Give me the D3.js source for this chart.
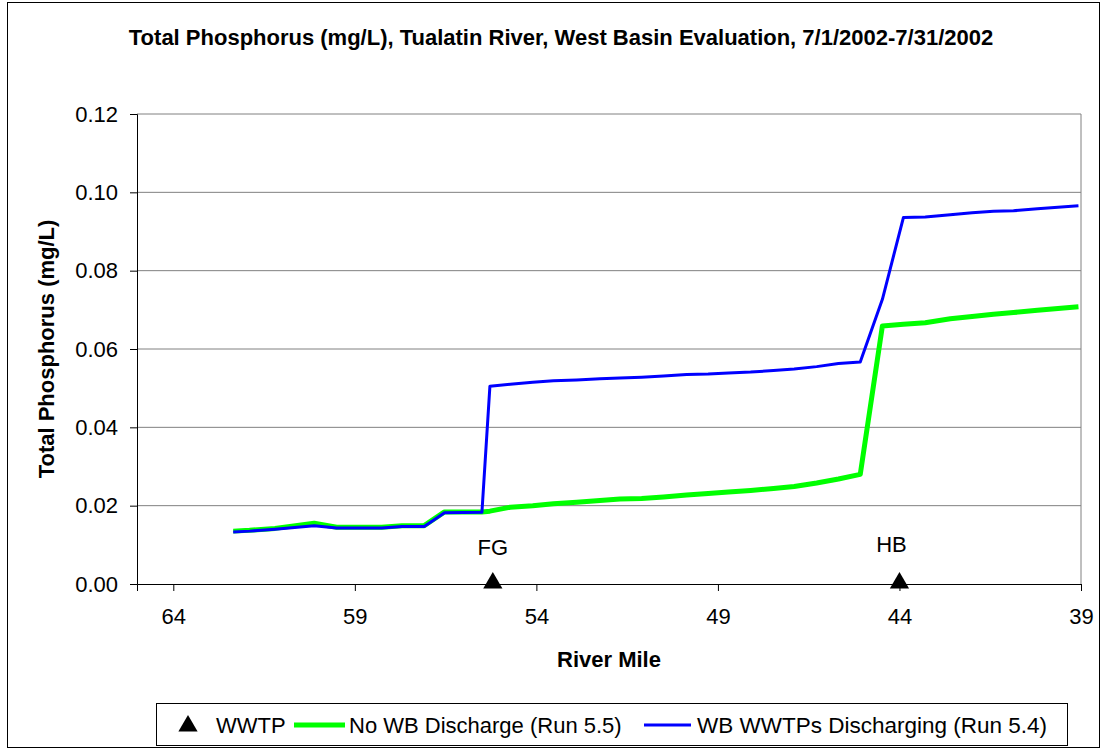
<!DOCTYPE html>
<html>
<head>
<meta charset="utf-8">
<script src="https://cdn.jsdelivr.net/npm/d3@7"></script>
<style>
  body { margin: 0; background: #fff; }
  svg { display: block; font-family: "Liberation Sans", Arial, sans-serif; }
</style>
</head>
<body>
<div id="chart"></div>
<script>
// river miles shared by both model runs
const riverMile = [62.35, 61.9, 61.2, 60.12, 59.5, 58.26, 57.7, 57.09, 56.53, 55.5, 55.28, 54.72, 54.1, 53.53,
    52.89, 52.25, 51.7, 51.1, 50.5, 49.86, 49.27, 48.71, 48.1, 47.47, 46.9, 46.28, 45.68, 45.08, 44.47,
    43.89, 43.29, 42.6, 42.0, 41.41, 40.86, 40.2, 39.07];
const noWBDischarge = [0.0135, 0.0137, 0.0142, 0.0155, 0.0145, 0.0145, 0.0149, 0.0149, 0.0184, 0.0184, 0.0186,
    0.0196, 0.0200, 0.0205, 0.0209, 0.0213, 0.0217, 0.0218, 0.0222, 0.0227, 0.0231, 0.0235, 0.0239, 0.0244,
    0.0249, 0.0258, 0.0268, 0.0280, 0.0659, 0.0663, 0.0667, 0.0677, 0.0683, 0.0689, 0.0693, 0.0699, 0.0708];
const wbDischarging = [0.0133, 0.0135, 0.0140, 0.0149, 0.0143, 0.0143, 0.0147, 0.0147, 0.0182, 0.0183, 0.0505,
    0.0510, 0.0515, 0.0519, 0.0521, 0.0524, 0.0526, 0.0528, 0.0531, 0.0535, 0.0536, 0.0539, 0.0541, 0.0545,
    0.0549, 0.0555, 0.0563, 0.0567, 0.0727, 0.0936, 0.0937, 0.0943, 0.0948, 0.0952, 0.0953, 0.0958, 0.0966];
const wwtpMiles = [55.2, 44.0];
const wwtpLabels = ["FG", "HB"];
const xTicks = [64, 59, 54, 49, 44, 39];
const yTicks = [0, 0.02, 0.04, 0.06, 0.08, 0.10, 0.12];

const width = 1106, height = 750;
const margin = { top: 114, right: 25, bottom: 166, left: 137 };
const plotW = width - margin.left - margin.right;
const plotH = height - margin.top - margin.bottom;

const svg = d3.select("#chart").append("svg")
    .attr("width", width)
    .attr("height", height);

// outer frame
svg.append("rect")
    .attr("x", 7.5).attr("y", 2.5)
    .attr("width", 1092).attr("height", 745)
    .attr("fill", "none").attr("stroke", "#000").attr("stroke-width", 1);

svg.append("text")
    .attr("x", 561).attr("y", 45)
    .attr("text-anchor", "middle")
    .attr("font-weight", "bold").attr("font-size", 22)
    .text("Total Phosphorus (mg/L), Tualatin River, West Basin Evaluation, 7/1/2002-7/31/2002");

const g = svg.append("g").attr("transform", `translate(${margin.left},${margin.top})`);

const x = d3.scaleLinear().domain([65, 39]).range([0, plotW]);
const y = d3.scaleLinear().domain([0, 0.12]).range([plotH, 0]);

// gridlines
g.append("g").selectAll("line")
    .data(yTicks.slice(1))
    .enter().append("line")
    .attr("x1", 0).attr("x2", plotW)
    .attr("y1", d => y(d)).attr("y2", d => y(d))
    .attr("stroke", "#808080").attr("stroke-width", 1);

// right border of plot
g.append("line")
    .attr("x1", plotW).attr("x2", plotW)
    .attr("y1", 0).attr("y2", plotH)
    .attr("stroke", "#808080");

const yAxis = g.append("g")
    .call(d3.axisLeft(y).tickValues(yTicks).tickFormat(d3.format(".2f")).tickSize(7).tickPadding(12));
yAxis.select(".domain").attr("stroke", "#000");
yAxis.selectAll("text").attr("font-size", 22).attr("fill", "#000").attr("font-family", "Liberation Sans, Arial");

const xAxis = g.append("g")
    .attr("transform", `translate(0,${plotH})`)
    .call(d3.axisBottom(x).tickValues(xTicks).tickFormat(d3.format("d")).tickSize(7).tickPadding(17));
xAxis.select(".domain").attr("stroke", "#000");
xAxis.selectAll("text").attr("font-size", 22).attr("fill", "#000").attr("font-family", "Liberation Sans, Arial");

svg.append("text")
    .attr("transform", `translate(54,${margin.top + plotH / 2}) rotate(-90)`)
    .attr("text-anchor", "middle")
    .attr("font-weight", "bold").attr("font-size", 22)
    .text("Total Phosphorus (mg/L)");

svg.append("text")
    .attr("x", 609).attr("y", 667)
    .attr("text-anchor", "middle")
    .attr("font-weight", "bold").attr("font-size", 22)
    .text("River Mile");

const line = d3.line()
    .x((d, i) => x(riverMile[i]))
    .y(d => y(d));

g.append("path")
    .datum(noWBDischarge)
    .attr("d", line)
    .attr("fill", "none").attr("stroke", "#00ff00").attr("stroke-width", 5)
    .attr("stroke-linejoin", "round");

g.append("path")
    .datum(wbDischarging)
    .attr("d", line)
    .attr("fill", "none").attr("stroke", "#0000ff").attr("stroke-width", 3)
    .attr("stroke-linejoin", "round");

// WWTP markers on the axis
const tri = d3.symbol().type(d3.symbolTriangle).size(160);
g.selectAll(".wwtp")
    .data(wwtpMiles)
    .enter().append("path")
    .attr("class", "wwtp")
    .attr("d", tri)
    .attr("transform", d => `translate(${x(d)},${plotH - 1})`)
    .attr("fill", "#000");

g.selectAll(".wwtp-label")
    .data(wwtpMiles)
    .enter().append("text")
    .attr("class", "wwtp-label")
    .attr("x", (d, i) => x(d) + (i === 1 ? -8 : 0))
    .attr("y", (d, i) => plotH - (i === 1 ? 32 : 29))
    .attr("text-anchor", "middle")
    .attr("font-size", 22)
    .text((d, i) => wwtpLabels[i]);

// legend
const legend = svg.append("g");
legend.append("rect")
    .attr("x", 156.5).attr("y", 703.5)
    .attr("width", 911).attr("height", 42)
    .attr("fill", "#fff").attr("stroke", "#000");
legend.append("path")
    .attr("d", tri)
    .attr("transform", "translate(188,726)")
    .attr("fill", "#000");
legend.append("text").attr("x", 216).attr("y", 733).attr("font-size", 22).text("WWTP");
legend.append("line")
    .attr("x1", 294).attr("x2", 345).attr("y1", 725).attr("y2", 725)
    .attr("stroke", "#00ff00").attr("stroke-width", 5);
legend.append("text").attr("x", 349).attr("y", 733).attr("font-size", 22).text("No WB Discharge (Run 5.5)");
legend.append("line")
    .attr("x1", 644).attr("x2", 691).attr("y1", 725).attr("y2", 725)
    .attr("stroke", "#0000ff").attr("stroke-width", 3);
legend.append("text").attr("x", 697).attr("y", 733).attr("font-size", 22.5).text("WB WWTPs Discharging (Run 5.4)");
</script>
</body>
</html>
